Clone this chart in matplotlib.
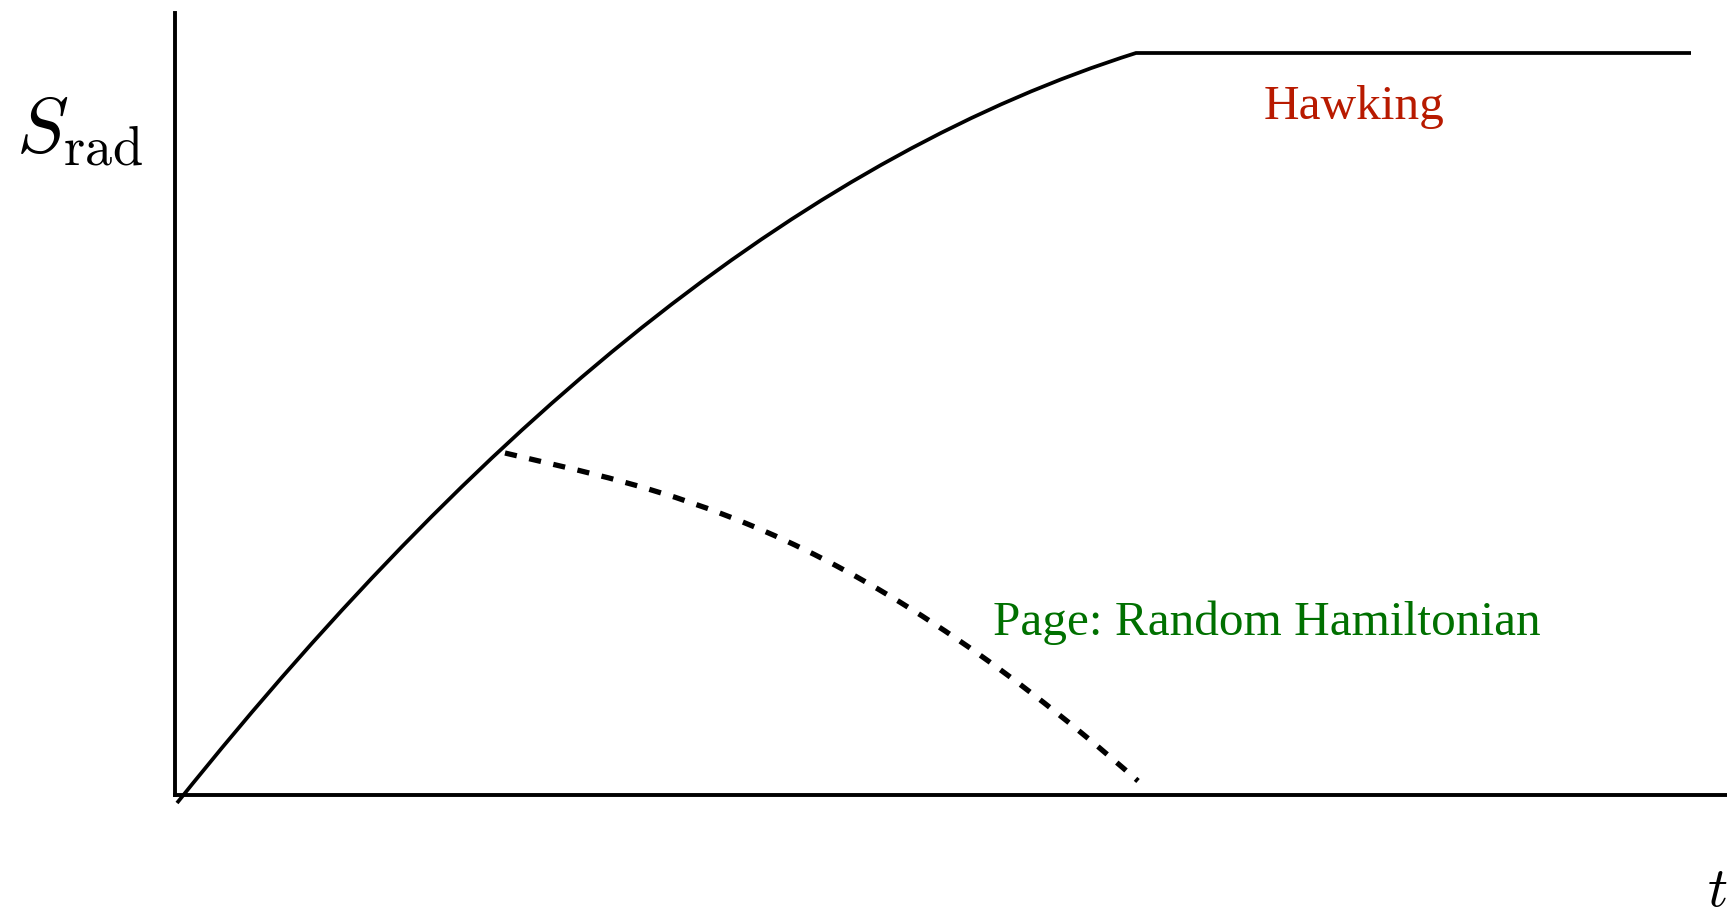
import matplotlib
matplotlib.use("Agg")
from matplotlib import pyplot as plt
from matplotlib.path import Path
from matplotlib.patches import PathPatch

plt.rcParams['mathtext.fontset'] = 'cm'

# Hawking curve: quadratic rise from the origin, then flat after the Page time
# (start, control point, kink, end of the plateau)
hawking_t = [0.02, 4.815, 9.61, 15.16]
hawking_s = [-0.08, 5.91, 7.42, 7.42]
hawking_codes = [Path.MOVETO, Path.CURVE3, Path.CURVE3, Path.LINETO]

# Page curve for a random Hamiltonian: cubic falling back towards zero
page_t = [3.30, 4.80, 6.63, 9.63]
page_s = [3.42, 3.06, 2.78, 0.14]
page_codes = [Path.MOVETO, Path.CURVE4, Path.CURVE4, Path.CURVE4]

fig = plt.figure(figsize=(17.27, 9.14), dpi=100)
ax = fig.add_axes([175 / 1727, 119 / 914, 1552 / 1727, 782 / 914])
ax.set_xlim(0, 15.52)
ax.set_ylim(0, 7.82)

hawking = Path(list(zip(hawking_t, hawking_s)), hawking_codes)
ax.add_patch(PathPatch(hawking, fill=False, edgecolor='black', lw=2.7,
                       capstyle='butt', joinstyle='miter', clip_on=False))

page = Path(list(zip(page_t, page_s)), page_codes)
ax.add_patch(PathPatch(page, fill=False, edgecolor='black', lw=3.8,
                       linestyle=(0, (2.3, 2.4)), capstyle='butt',
                       clip_on=False))

# only the two axis lines, no ticks
for side in ['top', 'right']:
    ax.spines[side].set_visible(False)
for side in ['left', 'bottom']:
    ax.spines[side].set_linewidth(2.8)
ax.set_xticks([])
ax.set_yticks([])

ax.text(10.89, 6.76, 'Hawking', color='#b81a00', fontsize=35.5,
        family='Liberation Serif', ha='left', va='baseline')
ax.text(8.18, 1.60, 'Page: Random Hamiltonian', color='#007000', fontsize=35.5,
        family='Liberation Serif', ha='left', va='baseline')

fig.text(0.0093, 0.8337, r'$S_{\mathrm{rad}}$', fontsize=56,
         ha='left', va='baseline')
fig.text(0.9884, 0.0088, r'$t$', fontsize=40, ha='left', va='baseline')

fig.savefig('out.png', dpi=100)
